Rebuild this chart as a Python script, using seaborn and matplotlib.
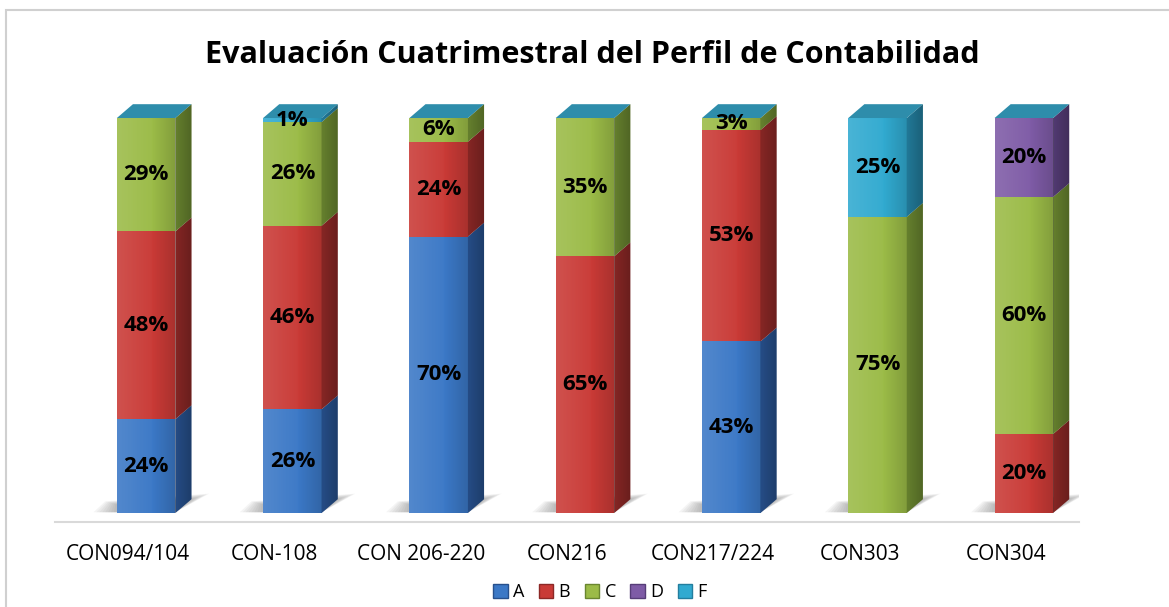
import numpy as np
import pandas as pd
import matplotlib
matplotlib.use("Agg")
import matplotlib.pyplot as plt
from matplotlib.patches import Patch, Polygon, Rectangle
import seaborn as sns

# data (percent per group)
categories = ["CON094/104", "CON-108", "CON 206-220", "CON216", "CON217/224", "CON303", "CON304"]
series = ["A", "B", "C", "D", "F"]
a_vals = [24, 26, 70, 0, 43, 0, 0]
b_vals = [48, 46, 24, 65, 53, 0, 20]
c_vals = [29, 26, 6, 35, 3, 75, 60]
d_vals = [0, 0, 0, 0, 0, 0, 20]
f_vals = [0, 1, 0, 0, 0, 25, 0]

front = {"A": "#3B78C6", "B": "#C93A36", "C": "#9BBB47", "D": "#7E5BA6", "F": "#31AAD0"}
side = {"A": "#27508C", "B": "#8C2826", "C": "#6A8630", "D": "#563D78", "F": "#237E9E"}
cap_color = "#2E8DAB"

TITLE = "Evaluación Cuatrimestral del Perfil de Contabilidad"

sns.set_theme(style="white")
plt.rcParams["font.family"] = ["Open Sans", "DejaVu Sans"]
plt.rcParams["text.color"] = "black"
plt.rcParams["xtick.color"] = "black"

df = pd.DataFrame({"cat": categories, "A": a_vals, "B": b_vals, "C": c_vals,
                   "D": d_vals, "F": f_vals})
pct = df[series].div(df[series].sum(axis=1), axis=0) * 100  # 100% stacked
cum = pct.cumsum(axis=1)
low = cum - pct

BAR_W = 0.4     # front face width (category units)
SHIFT = 0.123   # 3D offset of the bar front from the category centre
DX = 0.11       # depth, horizontal
DY = 3.5        # depth, vertical (percent units)

df["xpos"] = np.arange(len(categories)) + SHIFT

fig = plt.figure(figsize=(11.69, 6.07), dpi=100)
ax = fig.add_axes([55 / 1169, 85 / 607, 1024 / 1169, 422 / 607])

# soft floor shadows: stacked translucent footprints, shrinking towards the bar
for i, x in enumerate(df["xpos"]):
    x0, x1 = x - BAR_W / 2, x + BAR_W / 2
    n = 9
    for k in range(n):
        f = k / (n - 1)
        h = DY + 1.4 * (1 - f)
        ax.add_patch(Polygon([(x0 - 0.16 * (1 - f), 0.2), (x1, 0.2),
                              (x1 + DX + 0.12 * (1 - f), h),
                              (x0 - 0.08 * (1 - f), h * 0.6)],
                             closed=True, fc="#707070", ec="none", alpha=0.07, zorder=1))

# stacked fronts: draw cumulative totals from the top series down
for s in reversed(series):
    sns.barplot(x=df["xpos"], y=cum[s], color=front[s], width=BAR_W, native_scale=True,
                saturation=1, errorbar=None, edgecolor="none", ax=ax, zorder=3)

# light / shade overlay across the front face
g = np.linspace(0, 1, 64)
shade = np.zeros((1, 64, 4))
shade[0, :, :3] = np.where(g[:, None] < 0.6, 1.0, 0.0)
shade[0, :, 3] = np.where(g < 0.6, 0.10 * (1 - g / 0.6) + 0.02, 0.16 * (g - 0.6) / 0.4)
side_shade = np.zeros((1, 64, 4))
side_shade[0, :, 3] = 0.05 + 0.2 * g

# side faces + labels
for i, x in enumerate(df["xpos"]):
    x0, x1 = x - BAR_W / 2, x + BAR_W / 2
    top = cum.loc[i, "F"]
    ax.imshow(shade, extent=[x0, x1, 0, top], aspect="auto", interpolation="bilinear",
              zorder=3.2)
    for s in series:
        v = df.loc[i, s]
        if v <= 0:
            continue
        b, t = low.loc[i, s], cum.loc[i, s]
        face = Polygon([(x1, b), (x1 + DX, b + DY), (x1 + DX, t + DY), (x1, t)],
                       closed=True, fc=side[s], ec="none", zorder=3)
        ax.add_patch(face)
        im = ax.imshow(side_shade, extent=[x1, x1 + DX, b, t + DY], aspect="auto",
                       interpolation="bilinear", zorder=3.2)
        im.set_clip_path(face)
        ax.text(x, (b + t) / 2, f"{v}%", ha="center", va="center", fontsize=16,
                fontweight="bold", color="black", zorder=5)
    ax.add_patch(Polygon([(x0, top), (x0 + DX, top + DY), (x1 + DX, top + DY), (x1, top)],
                         closed=True, fc=cap_color, ec="none", zorder=3))

ax.set_xlim(-0.5, 6.5)
ax.set_ylim(-2.28, 104.56)
ax.set_yticks([])
ax.set_xticks(range(len(categories)), categories, fontsize=15)
ax.tick_params(axis="x", length=0, pad=16)
ax.set_xlabel("")
ax.set_ylabel("")
for sp in ["left", "right", "top"]:
    ax.spines[sp].set_visible(False)
ax.spines["bottom"].set_color("#d9d9d9")
ax.spines["bottom"].set_linewidth(1.5)

fig.text(592 / 1169, 1 - 55 / 607, TITLE, ha="center", va="center",
         fontsize=22, fontweight="bold", color="black")

handles = [Patch(fc=front[s], ec=side[s]) for s in series]
fig.legend(handles, series, loc="center", bbox_to_anchor=(600 / 1169, 1 - 592 / 607),
           ncol=5, frameon=False, fontsize=13, handlelength=0.8, handleheight=0.8,
           handletextpad=0.3, columnspacing=0.8)

# chart border (clipped on the right and bottom)
fig.patches.append(Rectangle((6 / 1169, -0.1), 1.2, 1 - 10 / 607 + 0.1,
                             transform=fig.transFigure, fill=False,
                             ec="#d0d0d0", lw=1.5))

fig.savefig("out.png", dpi=100)
